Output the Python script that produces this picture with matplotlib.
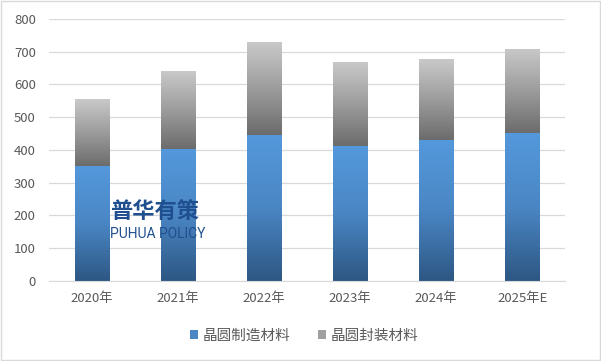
import numpy as np
import matplotlib.pyplot as plt
from matplotlib.colors import LinearSegmentedColormap
from matplotlib.patches import Patch, Rectangle

plt.rcParams['font.family'] = ['Noto Sans CJK SC', 'DejaVu Sans']

years = ['2020年', '2021年', '2022年', '2023年', '2024年', '2025年E']
wafer = [350, 404, 446, 413, 429, 450]
package = [204, 238, 283, 254, 247, 259]
labels = ['晶圆制造材料', '晶圆封装材料']

blue_cmap = LinearSegmentedColormap.from_list('b', ['#2d5783', '#4a86c4', '#5499dc'])
grey_cmap = LinearSegmentedColormap.from_list('g', ['#6c6c6c', '#9c9c9c', '#c9c9c9'])

fig = plt.figure(figsize=(6.01, 3.61), dpi=100)
ax = fig.add_axes([0.0815, 0.222, 0.859, 0.726])

x = np.arange(len(years))
b1 = ax.bar(x, wafer, width=0.4, color='none', zorder=2)
b2 = ax.bar(x, package, width=0.4, bottom=wafer, color='none', zorder=2)

# vertical gradient fill, clipped to each bar
grad = np.linspace(0, 1, 256).reshape(-1, 1)
for bars, cmap in [(b1, blue_cmap), (b2, grey_cmap)]:
    for p in bars:
        x0, y0 = p.get_x(), p.get_y()
        w, h = p.get_width(), p.get_height()
        im = ax.imshow(grad, cmap=cmap, origin='lower', aspect='auto',
                       extent=[x0, x0 + w, y0, y0 + h], zorder=2)
        im.set_clip_path(p)

ax.set_xlim(-0.5, len(years) - 0.5)
ax.set_ylim(0, 800)
ax.set_yticks(range(0, 801, 100))
ax.set_xticks(x)
ax.set_xticklabels(years)
ax.grid(axis='y', color='#d9d9d9', linewidth=0.9, zorder=0)
ax.set_axisbelow(True)
for s in ax.spines.values():
    s.set_visible(False)
ax.spines['bottom'].set_visible(True)
ax.spines['bottom'].set_color('#d9d9d9')
ax.tick_params(length=0, colors='#595959', labelsize=9.5)
ax.tick_params(axis='y', pad=9.5)
ax.tick_params(axis='x', pad=8)

handles = [Patch(facecolor='#4a86c4'), Patch(facecolor='#a0a0a0')]
fig.legend(handles, labels, loc='center', bbox_to_anchor=(0.506, 0.07), ncol=2,
           frameon=False, handlelength=0.55, handleheight=0.55, handletextpad=0.3,
           columnspacing=1.9, fontsize=10.5, labelcolor='#595959')

# watermark
fig.text(0.183, 0.396, '普华有策', fontsize=16, fontweight='bold', color='#1f4f8f')
fig.text(0.183, 0.341, 'PUHUA POLICY', fontsize=10, color='#1f4f8f',
         family=['Roboto', 'DejaVu Sans'])

fig.patches.append(Rectangle((0.002, 0.003), 0.996, 0.994, transform=fig.transFigure,
                             fill=False, edgecolor='#d9d9d9', linewidth=1))

fig.savefig('out.png', dpi=100)
